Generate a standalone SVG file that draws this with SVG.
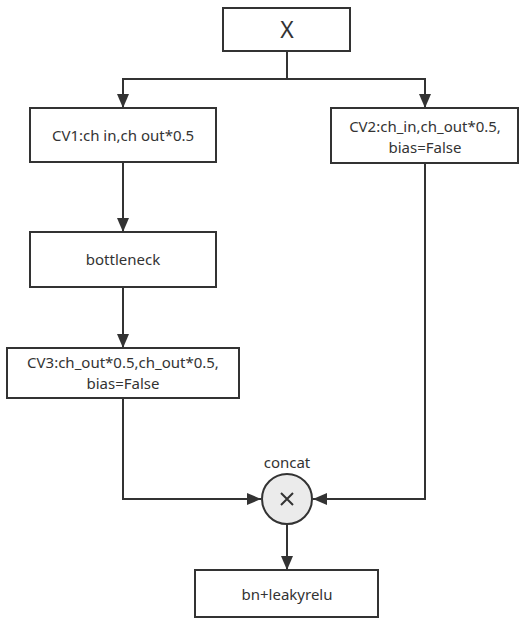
<svg xmlns="http://www.w3.org/2000/svg" width="522" height="623" viewBox="0 0 522 623">
<style>
.box{fill:#fff;stroke:#333;stroke-width:2}
.t{font-family:"Noto Sans","Open Sans",sans-serif;font-size:15px;fill:#333;text-anchor:middle}
.c{fill:none;stroke:#333;stroke-width:2}
</style>
<defs>
<marker id="ah" viewBox="0 0 14 12" refX="14" refY="6" markerWidth="14" markerHeight="12" markerUnits="userSpaceOnUse" orient="auto">
<path d="M0,0 L14,6 L0,12 z" fill="#333"/>
</marker>
</defs>
<rect width="522" height="623" fill="#fff"/>
<g id="connectors">
<path class="c" d="M287,51 V79"/>
<path class="c" d="M287,79 H123 V108" marker-end="url(#ah)"/>
<path class="c" d="M287,79 H425 V108" marker-end="url(#ah)"/>
<path class="c" d="M123,162 V232" marker-end="url(#ah)"/>
<path class="c" d="M123,287 V348" marker-end="url(#ah)"/>
<path class="c" d="M123,398 V499 H261" marker-end="url(#ah)"/>
<path class="c" d="M425,163 V499 H313" marker-end="url(#ah)"/>
<path class="c" d="M287,524 V570" marker-end="url(#ah)"/>
</g>
<g id="X">
<rect class="box" x="223" y="8" width="127" height="43"/>
<text class="t" x="287" y="38" style="font-size:23px">X</text>
</g>
<g id="CV1">
<rect class="box" x="30" y="108" width="186" height="54"/>
<text class="t" x="123" y="141">CV1:ch in,ch out*0.5</text>
</g>
<g id="CV2">
<rect class="box" x="331" y="108" width="187" height="55"/>
<text class="t" x="425" y="132">CV2:ch_in,ch_out*0.5,</text>
<text class="t" x="425" y="153">bias=False</text>
</g>
<g id="bottleneck">
<rect class="box" x="30" y="232" width="186" height="55"/>
<text class="t" x="123" y="265">bottleneck</text>
</g>
<g id="CV3">
<rect class="box" x="7" y="348" width="232" height="50"/>
<text class="t" x="123" y="368">CV3:ch_out*0.5,ch_out*0.5,</text>
<text class="t" x="123" y="389">bias=False</text>
</g>
<g id="concat">
<circle cx="287" cy="499" r="25" fill="#ebebeb" stroke="#333" stroke-width="2"/>
<path d="M281,493 L293,505 M293,493 L281,505" stroke="#333" stroke-width="2"/>
<text class="t" x="287" y="468">concat</text>
</g>
<g id="bn">
<rect class="box" x="195" y="570" width="183" height="47"/>
<text class="t" x="287" y="600">bn+leakyrelu</text>
</g>
</svg>
